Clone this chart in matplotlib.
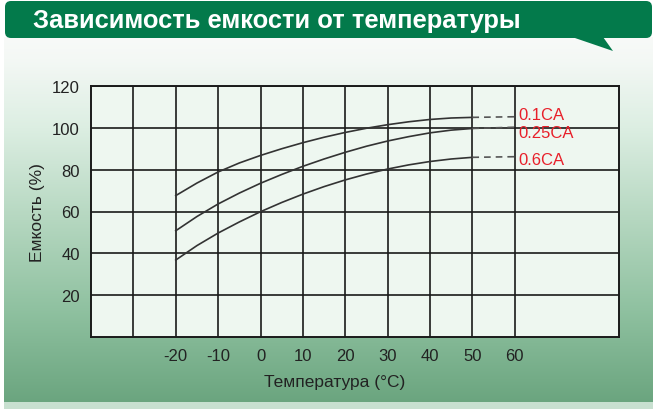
import numpy as np
import matplotlib
matplotlib.use("Agg")
import matplotlib.pyplot as plt
from matplotlib.patches import FancyBboxPatch, Polygon, Rectangle
from matplotlib.colors import LinearSegmentedColormap

# ---- data ----
title = "Зависимость емкости от температуры"
xlabel = "Температура (°C)"
ylabel = "Емкость (%)"
temps = [-20, -15, -10, -5, 0, 5, 10, 15, 20, 25, 30, 35, 40, 45, 50]
cap_01 = [67.6, 73.6, 78.9, 83.2, 86.8, 90.0, 92.9, 95.5, 97.8, 99.8, 101.5, 102.9, 104.0, 104.7, 105.0]
cap_025 = [50.8, 57.6, 63.6, 68.8, 73.5, 77.7, 81.6, 85.1, 88.3, 91.2, 93.7, 95.8, 97.6, 98.9, 99.7]
cap_06 = [36.8, 43.7, 49.7, 55.0, 59.9, 64.3, 68.3, 71.9, 75.1, 77.9, 80.3, 82.3, 83.9, 85.1, 85.9]
ext_temps = [50, 60]
ext_01 = [105.0, 105.3]
ext_025 = [99.7, 100.3]
ext_06 = [85.9, 86.2]
series_labels = ["0.1CA", "0.25CA", "0.6CA"]
label_y = [115, 133, 161]  # pixel rows of labels
xtick_vals = [-30, -20, -10, 0, 10, 20, 30, 40, 50, 60]
xtick_labels = ["", "-20", "-10", "0", "10", "20", "30", "40", "50", "60"]
ytick_vals = [20, 40, 60, 80, 100, 120]

plt.rcParams['font.family'] = ['Liberation Sans', 'DejaVu Sans']

W, H = 661, 410
fig = plt.figure(figsize=(W / 100, H / 100), dpi=100)
fig.patch.set_facecolor("white")

# ---- background axes in pixel coords ----
bg = fig.add_axes([0, 0, 1, 1])
bg.set_xlim(0, W)
bg.set_ylim(H, 0)
bg.axis("off")

cmap = LinearSegmentedColormap.from_list(
    "g", [(0.0, "#f8faf8"), (0.06, "#f4f8f5"), (0.25, "#dceee2"),
          (0.5, "#b5d7c0"), (0.75, "#8fc1a0"), (1.0, "#6ba57f")])
grad = np.linspace(0, 1, 256).reshape(-1, 1)
bg.add_patch(Rectangle((4, 403), 649, 7, facecolor="#c8e0d0", edgecolor="none"))
bg.imshow(grad, cmap=cmap, extent=(4, 653, 403, 38), aspect="auto", zorder=1)

banner = FancyBboxPatch((5, 2), 647, 37, boxstyle="round,pad=0,rounding_size=6",
                        facecolor="#037a4b", edgecolor="none", zorder=3)
bg.add_patch(banner)
bg.add_patch(Polygon([[572, 38], [603, 38], [613, 52]], closed=True,
                     facecolor="#037a4b", edgecolor="none", zorder=3))
bg.text(33, 21, title, color="white", fontsize=18.4, fontweight="bold",
        va="center", ha="left", zorder=4)

# ---- chart axes ----
left, right, top, bottom = 91, 619, 87, 338
ax = fig.add_axes([left / W, 1 - bottom / H, (right - left) / W, (bottom - top) / H])
ax.set_facecolor("#eef7f0")
ax.set_xlim(-40, 84.6)
ax.set_ylim(0, 120)

ax.set_xticks(xtick_vals)
ax.set_xticklabels(xtick_labels)
ax.set_yticks(ytick_vals)
ax.tick_params(length=0, labelsize=12, colors="#222222", pad=8)
ax.grid(True, color="#1a1a1a", linewidth=1.2)
ax.set_axisbelow(True)
for s in ax.spines.values():
    s.set_color("#1a1a1a")
    s.set_linewidth(1.4)

for vals, ext in [(cap_01, ext_01), (cap_025, ext_025), (cap_06, ext_06)]:
    ax.plot(temps, vals, color="#333333", linewidth=1.2, zorder=3,
            solid_joinstyle="round")
    ax.plot(ext_temps, ext, color="#555555", linewidth=1.2,
            linestyle=(0, (4, 3)), zorder=3)

ax.set_xlabel(xlabel, fontsize=12.5, color="#222222")
ax.set_ylabel(ylabel, fontsize=12.5, color="#222222")
ax.xaxis.set_label_coords((335 - left) / (right - left), -(383 - bottom) / (bottom - top))
ax.yaxis.set_label_coords(-(91 - 37) / (right - left), 0.5)
ax.xaxis.label.set_va("center")
ax.yaxis.label.set_va("center")

for lab, py in zip(series_labels, label_y):
    fig.text(518 / W, 1 - py / H, lab, color="#e8202a", fontsize=12,
             va="center", ha="left", zorder=5)

fig.savefig("out.png", dpi=100)
